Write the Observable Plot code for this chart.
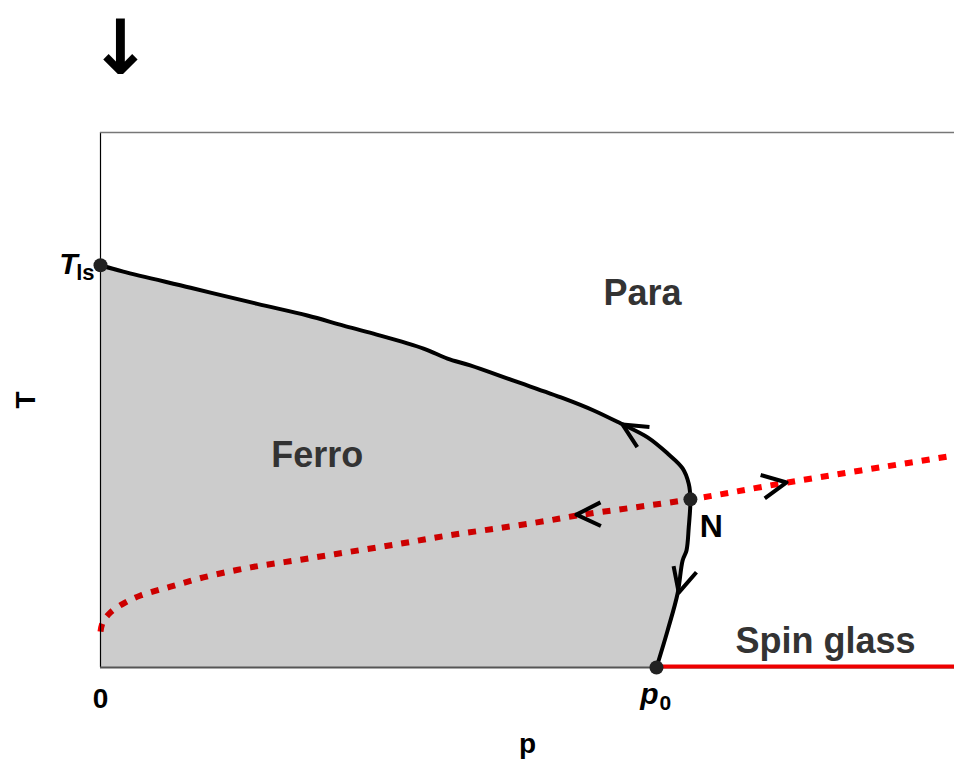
<!DOCTYPE html>
<html>
<head>
<meta charset="utf-8">
<script src="https://cdn.jsdelivr.net/npm/d3@7"></script>
<script src="https://cdn.jsdelivr.net/npm/@observablehq/plot@0.6"></script>
<style>
  html, body { margin: 0; padding: 0; background: #fff; }
  #chart { width: 954px; height: 762px; overflow: hidden; }
</style>
</head>
<body>
<div id="chart"></div>
<script>
// Ferro / para phase boundary, ordered from p0 (T = 0) up to T_ls (p = 0)
const boundaryP = [1.000, 1.020, 1.038, 1.047, 1.054, 1.058, 1.061, 1.058, 1.047, 1.020, 0.984, 0.935, 0.887, 0.833, 0.743, 0.665, 0.624, 0.581, 0.491, 0.437, 0.372, 0.282, 0.162, 0.041, 0.000];
const boundaryT = [0.000, 0.092, 0.184, 0.266, 0.291, 0.348, 0.418, 0.457, 0.495, 0.532, 0.572, 0.607, 0.639, 0.669, 0.713, 0.751, 0.768, 0.793, 0.830, 0.850, 0.875, 0.904, 0.944, 0.984, 1.000];

// Dotted red line through the multicritical point N
const nishimoriP = [0.000, 0.004, 0.018, 0.041, 0.072, 0.126, 0.185, 0.270, 0.360, 0.450, 0.540, 0.624, 0.714, 0.804, 0.858, 1.061, 1.236, 1.536];
const nishimoriT = [0.089, 0.112, 0.137, 0.159, 0.179, 0.201, 0.224, 0.249, 0.268, 0.288, 0.308, 0.328, 0.346, 0.365, 0.378, 0.418, 0.460, 0.527];

// Zero-temperature spin-glass segment
const spinGlassP = [1.000, 1.536];
const spinGlassT = [0, 0];

// Marked points: T_ls, N, p0
const pointNames = ["Tls", "N", "p0"];
const pointP = [0, 1.061, 1.000];
const pointT = [1.000, 0.418, 0];

// Flow arrows (apex position, heading in degrees clockwise from up)
const arrowP = [0.939, 1.040, 0.856, 1.234];
const arrowT = [0.604, 0.186, 0.380, 0.460];
const arrowHeading = [-59, 195, -91, 80];

// Phase labels
const phaseNames = ["Para", "Ferro", "Spin glass"];
const phaseP = [0.975, 0.390, 1.304];
const phaseT = [0.930, 0.527, 0.065];

const pDomain = [0, 1.536];
const tDomain = [0, 1.33];

const boundary = boundaryP.map((p, i) => ({p, T: boundaryT[i]}));
const nishimori = nishimoriP.map((p, i) => ({p, T: nishimoriT[i]}));
const spinGlass = spinGlassP.map((p, i) => ({p, T: spinGlassT[i]}));
const points = pointNames.map((name, i) => ({name, p: pointP[i], T: pointT[i]}));
const arrows = arrowP.map((p, i) => ({p, T: arrowT[i], heading: arrowHeading[i]}));
const phases = phaseNames.map((name, i) => ({name, p: phaseP[i], T: phaseT[i]}));

// Open chevron: apex at the anchor, arms trailing behind the heading
const chevron = {
  draw(context, l) {
    const a = 26 * Math.PI / 180;
    context.moveTo(-l * Math.sin(a), l * Math.cos(a));
    context.lineTo(0, 0);
    context.lineTo(l * Math.sin(a), l * Math.cos(a));
  }
};

const font = "'Liberation Sans', Arial, Helvetica, sans-serif";

const chart = Plot.plot({
  width: 954,
  height: 762,
  marginLeft: 100,
  marginTop: 132,
  marginBottom: 95,
  marginRight: 0,
  x: {domain: pDomain, axis: null},
  y: {domain: tDomain, axis: null},
  style: {fontFamily: font, background: "#fff", overflow: "visible"},
  marks: [
    Plot.line(nishimori, {x: "p", y: "T", curve: "catmull-rom", stroke: "red", strokeWidth: 6, strokeDasharray: "8,9", strokeLinecap: "butt"}),
    Plot.areaX(boundary, {x1: 0, x2: "p", y: "T", curve: "catmull-rom", fill: "black", fillOpacity: 0.2}),
    Plot.ruleX([0], {stroke: "black", strokeWidth: 1.2}),
    Plot.ruleY([tDomain[1]], {stroke: "#777", strokeWidth: 1.5}),
    Plot.ruleY([0], {stroke: "#555", strokeWidth: 2}),
    Plot.line(spinGlass, {x: "p", y: "T", stroke: "#ee0000", strokeWidth: 4, dy: -1}),
    Plot.line(boundary, {x: "p", y: "T", curve: "catmull-rom", stroke: "black", strokeWidth: 4}),
    Plot.vector(arrows, {x: "p", y: "T", rotate: "heading", length: 27, anchor: "start", shape: chevron, stroke: "black", strokeWidth: 4, fill: "none", strokeLinecap: "butt"}),
    Plot.dot(points, {x: "p", y: "T", r: 7, fill: "#222", stroke: "none"}),
    Plot.text(phases, {x: "p", y: "T", text: "name", fontSize: 36, fontWeight: "bold", fill: "#333"}),
    // N label
    Plot.text(points.filter(d => d.name === "N"), {x: "p", y: "T", text: () => "N", dx: 21, dy: 27, fontSize: 32, fontWeight: "bold", fill: "black"}),
    // T_ls label
    Plot.text(points.filter(d => d.name === "Tls"), {x: "p", y: "T", text: () => "T", textAnchor: "end", lineAnchor: "bottom", dx: -23, dy: 9, fontSize: 30, fontWeight: "bold", fontStyle: "italic", fill: "black"}),
    Plot.text(points.filter(d => d.name === "Tls"), {x: "p", y: "T", text: () => "ls", textAnchor: "end", lineAnchor: "bottom", dx: -6, dy: 15, fontSize: 22, fontWeight: "bold", fill: "black"}),
    // p-axis tick labels: 0 and p0
    Plot.text([0], {x: d => d, y: 0, text: () => "0", lineAnchor: "bottom", dy: 40, fontSize: 28, fontWeight: "bold", fill: "black"}),
    Plot.text(points.filter(d => d.name === "p0"), {x: "p", y: "T", text: () => "p", textAnchor: "end", lineAnchor: "bottom", dx: 2, dy: 36, fontSize: 30, fontWeight: "bold", fontStyle: "italic", fill: "black"}),
    Plot.text(points.filter(d => d.name === "p0"), {x: "p", y: "T", text: () => "0", textAnchor: "start", lineAnchor: "bottom", dx: 3, dy: 42, fontSize: 21, fontWeight: "bold", fill: "black"}),
    // Axis titles
    Plot.text(["p"], {frameAnchor: "bottom", text: d => d, lineAnchor: "bottom", dy: 85, fontSize: 28, fontWeight: "bold", fill: "black"}),
    Plot.text(["T"], {frameAnchor: "left", text: d => d, textAnchor: "middle", rotate: -90, dx: -74, fontSize: 28, fontWeight: "bold", fill: "black"}),
    // Panel marker
    Plot.text(["\u2193"], {frameAnchor: "top-left", text: d => d, textAnchor: "middle", dx: 20, dy: -112, fontSize: 76, fontWeight: "bold", fontFamily: "'DejaVu Sans', sans-serif", fill: "black"})
  ]
});

document.getElementById("chart").append(chart);
</script>
</body>
</html>
